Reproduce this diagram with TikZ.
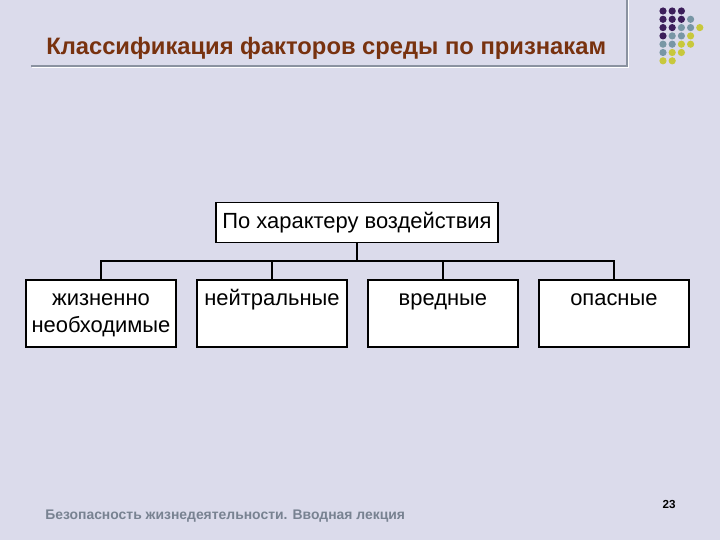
\documentclass[tikz,border=0pt]{standalone}
\usepackage{fontspec}
\setmainfont{Liberation Sans}
\usepackage{tikz}
\usetikzlibrary{positioning}
\usepackage{xcolor}
\definecolor{slidebg}{RGB}{219,219,235}
\definecolor{slidebrown}{RGB}{120,50,15}
\definecolor{slidegray}{RGB}{138,146,160}
\definecolor{footgray}{RGB}{120,130,145}
\definecolor{dotpurple}{RGB}{60,30,90}
\definecolor{dotteal}{RGB}{120,150,165}
\definecolor{dotyellow}{RGB}{200,200,60}
\tikzstyle{conn} = [line width=1pt, color=black]
\tikzstyle{factor} = [rectangle, minimum width=3.75cm, minimum height=1.675cm, align=center, draw=black, line width=1.4pt, fill=white, font=\fontsize{15.6}{19.2}\selectfont]

\begin{document}
\begin{tikzpicture}[node distance=0.475cm]
% Slide background
\fill[slidebg] (0,0) rectangle (18,13.5);
\useasboundingbox (0,0) rectangle (18,13.5);

% Title and its rule
\node[anchor=base west, inner sep=0, text=slidebrown, font=\fontsize{16.9}{19}\selectfont\bfseries] (title) at (1.15,12.125) {Классификация факторов среды по признакам};
\draw[slidegray, line width=1pt] (0.775,11.85) -- (15.675,11.85) -- (15.675,13.5);
\draw[white, line width=0.6pt] (0.8,11.81) -- (15.715,11.81) -- (15.715,13.5);

% Corner dots
\foreach \c/\r/\col in {0/0/dotpurple,1/0/dotpurple,2/0/dotpurple,
  0/1/dotpurple,1/1/dotpurple,2/1/dotpurple,3/1/dotteal,
  0/2/dotpurple,1/2/dotpurple,2/2/dotteal,3/2/dotteal,4/2/dotyellow,
  0/3/dotpurple,1/3/dotteal,2/3/dotteal,3/3/dotyellow,
  0/4/dotteal,1/4/dotteal,2/4/dotyellow,3/4/dotyellow,
  0/5/dotteal,1/5/dotyellow,2/5/dotyellow,
  0/6/dotyellow,1/6/dotyellow}
  \fill[\col] (16.575+0.23*\c,13.225-0.2075*\r) circle (0.09);

% Boxes
\node[factor, minimum width=7.05cm, minimum height=1cm] at (8.925,7.9375) (kind) {По характеру воздействия};
\node[factor] at (2.525,5.6625) (vital) {\strut жизненно\\\strut необходимые};
\node[factor, right=of vital] (neutral) {\strut нейтральные\\\strut};
\node[factor, right=of neutral] (harmful) {\strut вредные\\\strut};
\node[factor, right=of harmful] (danger) {\strut опасные\\\strut};

% Connectors
\coordinate (bus) at (8.925,6.975);
\draw[conn] (kind.south) -- (bus);
\foreach \n in {vital,neutral,harmful,danger}
  \draw[conn] (bus) -| (\n.north);

% Footer
\node[anchor=west, inner sep=0, text=footgray, font=\fontsize{9.9}{11}\selectfont\bfseries] (foot) at (1.125,0.6) {Безопасность жизнедеятельности. Вводная лекция};
\node[font=\fontsize{8.3}{10}\selectfont\bfseries] (page) at (16.725,0.9) {23};
\end{tikzpicture}
\end{document}
